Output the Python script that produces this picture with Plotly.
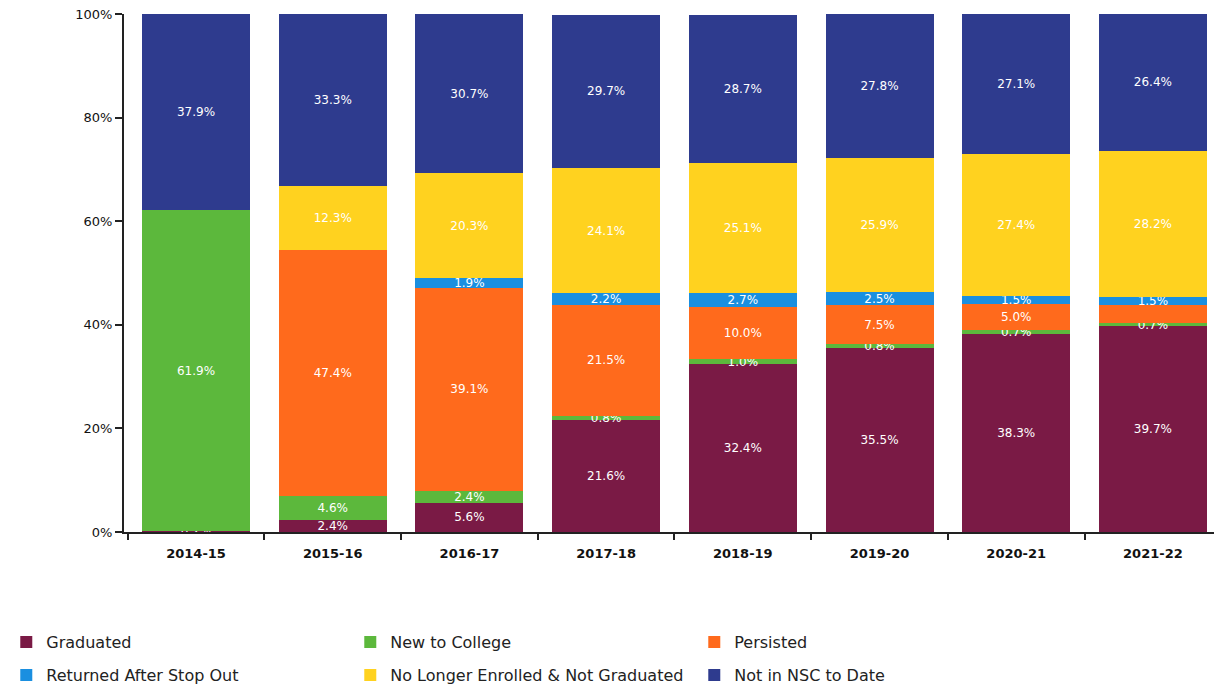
import plotly.graph_objects as go

years = ["2014-15", "2015-16", "2016-17", "2017-18", "2018-19", "2019-20", "2020-21", "2021-22"]

graduated = [0.2, 2.4, 5.6, 21.6, 32.4, 35.5, 38.3, 39.7]
new_to_college = [61.9, 4.6, 2.4, 0.8, 1.0, 0.8, 0.7, 0.7]
persisted = [0.0, 47.4, 39.1, 21.5, 10.0, 7.5, 5.0, 3.5]
returned = [0.0, 0.0, 1.9, 2.2, 2.7, 2.5, 1.5, 1.5]
no_longer = [0.0, 12.3, 20.3, 24.1, 25.1, 25.9, 27.4, 28.2]
not_in_nsc = [37.9, 33.3, 30.7, 29.7, 28.7, 27.8, 27.1, 26.4]

# segments whose value is printed on the bar (False = no label)
persisted_labeled = [False, True, True, True, True, True, True, False]

y_ticks = [0, 20, 40, 60, 80, 100]
y_tick_labels = ["0%", "20%", "40%", "60%", "80%", "100%"]

# (name, values, colour, label mask, legend row)
series = [
    ("Graduated", graduated, "#7a1a45", None, "legend"),
    ("New to College", new_to_college, "#5cb83c", None, "legend"),
    ("Persisted", persisted, "#ff6a1c", persisted_labeled, "legend"),
    ("Returned After Stop Out", returned, "#1a8fe0", None, "legend2"),
    ("No Longer Enrolled & Not Graduated", no_longer, "#ffd21f", None, "legend2"),
    ("Not in NSC to Date", not_in_nsc, "#2e3b8e", None, "legend2"),
]

fig = go.Figure()
for name, vals, color, labeled, leg in series:
    texts = []
    for i, v in enumerate(vals):
        show = v > 0 and (labeled is None or labeled[i])
        texts.append(f"{v:.1f}%" if show else "")
    fig.add_trace(go.Bar(
        name=name,
        x=years,
        y=vals,
        legend=leg,
        marker=dict(color=color, line=dict(width=0)),
        text=texts,
        textposition="inside",
        insidetextanchor="middle",
        constraintext="none",
        textangle=0,
        textfont=dict(family="DejaVu Sans", size=12, color="white"),
        hoverinfo="skip",
    ))

legend_style = dict(
    orientation="h",
    x=-0.108,
    xanchor="left",
    yanchor="top",
    entrywidth=299,
    entrywidthmode="pixels",
    font=dict(family="DejaVu Sans", size=16, color="#222222"),
    traceorder="normal",
    itemclick=False,
    bgcolor="rgba(0,0,0,0)",
)

fig.update_layout(
    barmode="stack",
    bargap=0.21,
    width=1214,
    height=686,
    margin=dict(l=124, r=0, t=14, b=154, autoexpand=False),
    paper_bgcolor="white",
    plot_bgcolor="white",
    showlegend=True,
    legend=dict(legend_style, y=-0.1797),
    legend2=dict(legend_style, y=-0.2434),
    xaxis=dict(
        type="category",
        range=[-0.527, 7.447],
        showline=True,
        linecolor="#222222",
        linewidth=2,
        ticks="outside",
        tickson="boundaries",
        ticklen=6,
        tickcolor="#222222",
        tickwidth=2,
        ticklabelstandoff=8,
        showgrid=False,
        tickfont=dict(family="DejaVu Sans", size=13, color="#111111", weight="bold"),
    ),
    yaxis=dict(
        range=[0, 100],
        tickmode="array",
        tickvals=y_ticks,
        ticktext=y_tick_labels,
        showline=True,
        linecolor="#222222",
        linewidth=2,
        ticks="outside",
        ticklen=7,
        tickcolor="#222222",
        tickwidth=2,
        showgrid=False,
        zeroline=False,
        tickfont=dict(family="DejaVu Sans", size=13, color="#111111"),
    ),
)

fig.write_html("out.html")
